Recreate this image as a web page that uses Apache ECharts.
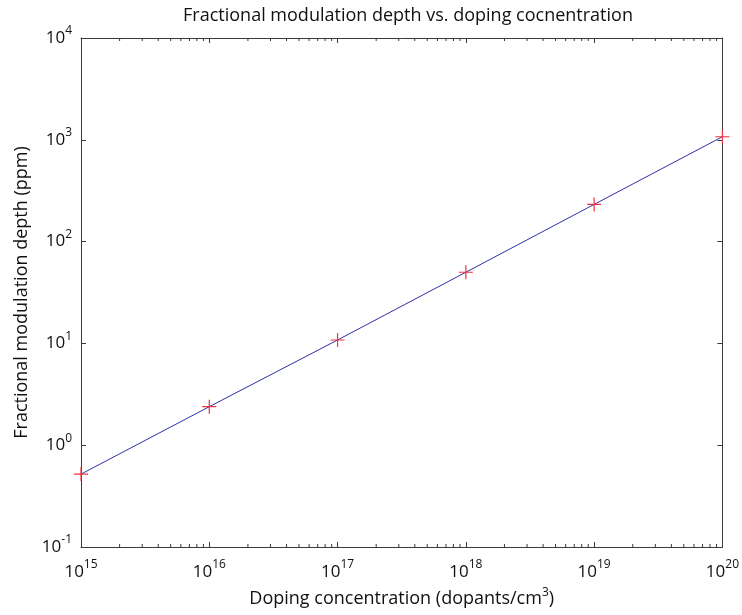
<!DOCTYPE html>
<html>
<head>
<meta charset="utf-8">
<script src="https://cdn.jsdelivr.net/npm/echarts@6/dist/echarts.min.js"></script>
<style>
html,body{margin:0;padding:0;background:#fff;}
#chart{width:742px;height:615px;}
</style>
</head>
<body>
<div id="chart"></div>
<script>
// Doping concentration (dopants/cm^3) and fractional modulation depth (ppm)
const dopingLevels = [1e15, 1e16, 1e17, 1e18, 1e19, 1e20];
const modulationDepth = [0.52, 2.39, 10.8, 50, 232, 1072];

// Axis ranges (decades)
const xRange = [1e15, 1e20];
const yRange = [1e-1, 1e4];

// Minor tick values (2..9 within each decade)
const xMinorTicks = [];
for (let e = 15; e < 20; e++) for (let m = 2; m <= 9; m++) xMinorTicks.push(m * Math.pow(10, e));
const yMinorTicks = [];
for (let e = -1; e < 4; e++) for (let m = 2; m <= 9; m++) yMinorTicks.push(m * Math.pow(10, e));

const FONT = '"Open Sans", "DejaVu Sans", sans-serif';
const AXIS_COLOR = '#3a3a3a';

function powLabel(v) {
  const e = Math.round(Math.log10(v));
  return '{b|10}{e|' + e + '}';
}
const labelRich = {
  b: { fontSize: 17, fontFamily: FONT, color: '#111' },
  e: { fontSize: 12, fontFamily: FONT, color: '#111', padding: [0, 0, 14, 0] }
};

function makeX(pos, showLabel) {
  return {
    type: 'log', logBase: 10, position: pos,
    min: xRange[0], max: xRange[1],
    axisLine: { show: true, onZero: false, lineStyle: { color: AXIS_COLOR, width: 1 } },
    axisTick: { show: true, inside: true, length: 5, lineStyle: { color: AXIS_COLOR } },
    splitLine: { show: false },
    axisLabel: { show: showLabel, formatter: powLabel, rich: labelRich, margin: 12 },
    name: showLabel ? '{a|Doping concentration (dopants/cm}{s|3}{a|)}' : '',
    nameLocation: 'middle', nameGap: 40,
    nameTextStyle: {
      rich: {
        a: { fontSize: 18, fontFamily: FONT, color: '#111' },
        s: { fontSize: 12, fontFamily: FONT, color: '#111', padding: [0, 0, 12, 0] }
      }
    }
  };
}
function makeY(pos, showLabel) {
  return {
    type: 'log', logBase: 10, position: pos,
    min: yRange[0], max: yRange[1],
    axisLine: { show: true, onZero: false, lineStyle: { color: AXIS_COLOR, width: 1 } },
    axisTick: { show: true, inside: true, length: 5, lineStyle: { color: AXIS_COLOR } },
    splitLine: { show: false },
    axisLabel: { show: showLabel, formatter: powLabel, rich: labelRich, margin: 9 },
    name: showLabel ? 'Fractional modulation depth (ppm)' : '',
    nameLocation: 'middle', nameGap: 50,
    nameTextStyle: { fontSize: 18, fontFamily: FONT, color: '#111' }
  };
}

function minorTickRenderer(axisDim) {
  return function (params, api) {
    const cs = params.coordSys;
    const v = api.value(0);
    const len = 3;
    const style = { stroke: AXIS_COLOR, lineWidth: 1 };
    if (axisDim === 'x') {
      const px = api.coord([v, 1])[0];
      const bottom = cs.y + cs.height, top = cs.y;
      return { type: 'group', children: [
        { type: 'line', shape: { x1: px, y1: bottom, x2: px, y2: bottom - len }, style },
        { type: 'line', shape: { x1: px, y1: top, x2: px, y2: top + len }, style }
      ]};
    } else {
      const py = api.coord([1e16, v])[1];
      const left = cs.x, right = cs.x + cs.width;
      return { type: 'group', children: [
        { type: 'line', shape: { x1: left, y1: py, x2: left + len, y2: py }, style },
        { type: 'line', shape: { x1: right, y1: py, x2: right - len, y2: py }, style }
      ]};
    }
  };
}

const chart = echarts.init(document.getElementById('chart'), null, { renderer: 'canvas' });
chart.setOption({
  backgroundColor: '#fff',
  animation: false,
  title: {
    text: 'Fractional modulation depth vs. doping cocnentration',
    left: 403, top: 2, textAlign: 'center',
    textStyle: { fontSize: 18, fontWeight: 'normal', fontFamily: FONT, color: '#111' }
  },
  grid: { left: 81, right: 16, top: 38, bottom: 68 },
  xAxis: [makeX('bottom', true), makeX('top', false)],
  yAxis: [makeY('left', true), makeY('right', false)],
  series: [
    {
      type: 'line',
      data: dopingLevels.map((x, i) => [x, modulationDepth[i]]),
      lineStyle: { color: '#3030a8', width: 1 },
      symbol: 'path://M-1,0L1,0M0,-1L0,1',
      symbolSize: 14,
      itemStyle: { color: 'none', borderColor: '#f0303f', borderWidth: 1.2 },
      showSymbol: true,
      clip: false,
      z: 5
    },
    {
      type: 'custom', coordinateSystem: 'cartesian2d',
      data: xMinorTicks.map(v => [v, 1]),
      renderItem: minorTickRenderer('x'), clip: false, silent: true
    },
    {
      type: 'custom', coordinateSystem: 'cartesian2d',
      data: yMinorTicks.map(v => [1e16, v]),
      renderItem: minorTickRenderer('y'), clip: false, silent: true
    }
  ]
});
</script>
</body>
</html>
